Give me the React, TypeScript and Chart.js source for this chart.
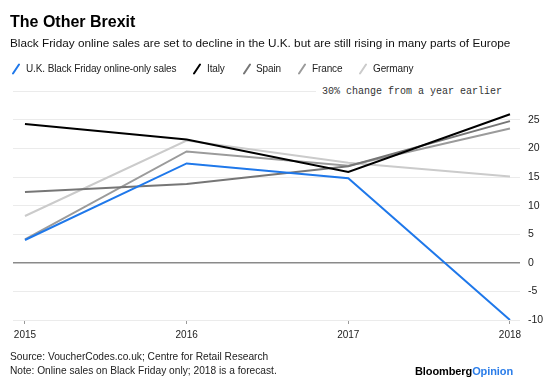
import React, { useEffect, useRef } from "react";
import { Chart, registerables } from "chart.js";

Chart.register(...registerables);

const years = [2015, 2016, 2017, 2018];
const ukSales = [4.0, 17.4, 14.8, -10.0];
const italy = [24.3, 21.6, 15.9, 26.0];
const spain = [12.4, 13.8, 16.9, 24.8];
const france = [4.1, 19.5, 17.0, 23.5];
const germany = [8.2, 21.4, 17.5, 15.1];
const yTicks = [-10, -5, 0, 5, 10, 15, 20, 25, 30];

const BLUE = "#1f78ea";
const seriesDefs = [
  { label: "U.K. Black Friday online-only sales", data: ukSales, color: BLUE, x: 12, tx: 26 },
  { label: "Italy", data: italy, color: "#000000", x: 193, tx: 207 },
  { label: "Spain", data: spain, color: "#767676", x: 243, tx: 256 },
  { label: "France", data: france, color: "#9b9b9b", x: 298, tx: 312 },
  { label: "Germany", data: germany, color: "#cbcbcb", x: 359, tx: 373 },
];

const SANS = '"Liberation Sans", Arial, Helvetica, sans-serif';

export default function App() {
  const canvasRef = useRef<HTMLCanvasElement | null>(null);

  useEffect(() => {
    if (!canvasRef.current) return;
    const chart = new Chart(canvasRef.current, {
      type: "line",
      data: {
        datasets: seriesDefs.map((s) => ({
          label: s.label,
          data: years.map((y, i) => ({ x: y, y: s.data[i] })),
          borderColor: s.color,
          backgroundColor: s.color,
          borderWidth: 2,
          pointRadius: 0,
          tension: 0,
          fill: false,
        })),
      },
      options: {
        animation: false,
        responsive: false,
        maintainAspectRatio: false,
        layout: { padding: { left: 13, right: 0, top: 91.4, bottom: 0 } },
        plugins: { legend: { display: false }, tooltip: { enabled: false } },
        scales: {
          x: {
            type: "linear",
            min: 2014.926,
            max: 2018.062,
            afterBuildTicks: (scale: any) => {
              scale.ticks = years.map((v) => ({ value: v }));
            },
            afterFit: (scale: any) => {
              scale.height = 63;
            },
            border: { display: false },
            grid: {
              drawOnChartArea: false,
              drawTicks: true,
              tickLength: 4,
              color: "#999",
              lineWidth: 1,
            },
            ticks: {
              padding: 5,
              color: "#222",
              font: { family: SANS, size: 10 },
              callback: (v: any) => String(v),
              maxRotation: 0,
            },
          },
          y: {
            type: "linear",
            position: "right",
            min: -10,
            max: 30,
            afterBuildTicks: (scale: any) => {
              scale.ticks = yTicks.map((v) => ({ value: v }));
            },
            afterFit: (scale: any) => {
              scale.width = 40;
            },
            border: { display: false },
            grid: {
              drawTicks: false,
              color: (ctx: any) => (ctx.tick && ctx.tick.value === 0 ? "#8a8a8a" : "#ebebeb"),
              lineWidth: (ctx: any) => (ctx.tick && ctx.tick.value === 0 ? 1.5 : 1),
            },
            ticks: {
              padding: 8,
              color: "#222",
              font: { family: SANS, size: 10.5 },
              callback: (v: any) => (v === 30 ? "" : String(v)),
            },
          },
        },
      },
    });
    return () => chart.destroy();
  }, []);

  const text = (fs: number, baseline: number) => ({
    position: "absolute" as const,
    top: baseline - 0.85 * fs,
    fontSize: fs,
    lineHeight: `${fs}px`,
    fontFamily: SANS,
    whiteSpace: "nowrap" as const,
  });

  return (
    <div
      style={{
        position: "absolute",
        left: 0,
        top: 0,
        width: 560,
        height: 383,
        background: "#fff",
        overflow: "hidden",
        color: "#111",
      }}
    >
      <canvas ref={canvasRef} width={560} height={383} style={{ position: "absolute", left: 0, top: 0 }} />
      <div style={{ ...text(16, 28), left: 10, fontWeight: 700, color: "#000" }}>The Other Brexit</div>
      <div style={{ ...text(11.75, 47.3), left: 10, color: "#111" }}>
        Black Friday online sales are set to decline in the U.K. but are still rising in many parts of Europe
      </div>
      {seriesDefs.map((s) => (
        <React.Fragment key={s.label}>
          <svg
            width={10}
            height={12}
            style={{ position: "absolute", left: s.x, top: 62.5 }}
          >
            <line x1={1} y1={10.5} x2={7} y2={1.5} stroke={s.color} strokeWidth={2} strokeLinecap="round" />
          </svg>
          <div style={{ ...text(10, 72), left: s.tx, color: "#222", letterSpacing: -0.12 }}>{s.label}</div>
        </React.Fragment>
      ))}
      <div
        style={{
          position: "absolute",
          left: 316,
          top: 86,
          width: 186,
          paddingRight: 20,
          height: 12,
          background: "#fff",
          textAlign: "right",
          fontFamily: '"Liberation Mono", "Courier New", monospace',
          fontSize: 10,
          lineHeight: "12px",
          color: "#333",
          whiteSpace: "nowrap",
        }}
      >
        30% change from a year earlier
      </div>
      <div style={{ ...text(10.2, 361), left: 10, color: "#222" }}>
        Source: VoucherCodes.co.uk; Centre for Retail Research
      </div>
      <div style={{ ...text(10.2, 375), left: 10, color: "#222" }}>
        Note: Online sales on Black Friday only; 2018 is a forecast.
      </div>
      <div style={{ ...text(11, 375), left: 415, fontWeight: 700, letterSpacing: -0.1 }}>
        <span style={{ color: "#000" }}>Bloomberg</span>
        <span style={{ color: "#2b7de9" }}>Opinion</span>
      </div>
    </div>
  );
}
